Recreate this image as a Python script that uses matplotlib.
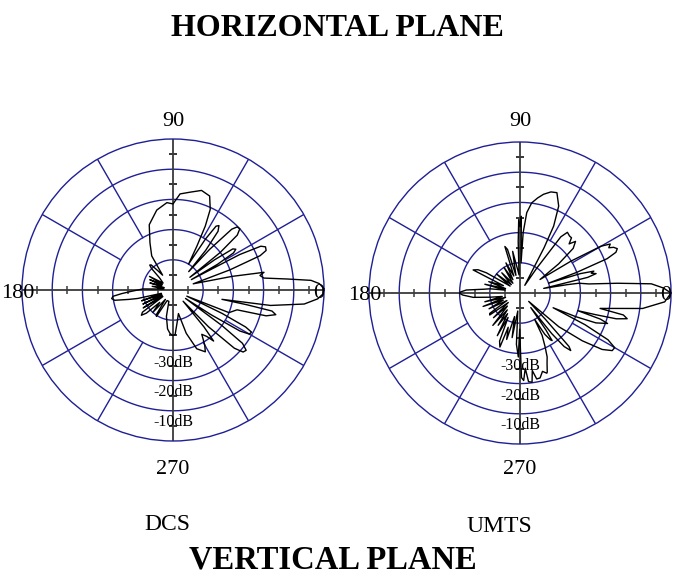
import numpy as np
import matplotlib
matplotlib.use('Agg')
import matplotlib.pyplot as plt

plt.rcParams['font.family'] = ['Liberation Serif', 'DejaVu Serif']

# ---- traced patterns: angle (deg), level (dB) ----
dcs_deg = [0.5, 2.5, 4, 5.5, 7.5, 9.5, 11, 13, 17,
           19.5, 21.5, 23, 25, 26.5, 28, 29.5,
           30, 31.5, 33, 34.5, 36, 37,
           38.5, 40.5, 42.5, 44.5, 46, 48, 49.5,
           50.5, 52.5, 54.5, 56, 57.5, 59,
           61.4, 63.2, 65.2, 68.7, 74, 80, 85.8, 90, 94, 101.5, 110, 116, 122, 125,
           128, 131, 133, 135, 138,
           145, 150, 152, 156, 158, 163, 165, 170, 174, 178,
           182, 184, 186, 188, 190, 192, 193.5, 196,
           199, 201, 205, 207, 211, 213, 216, 218.6, 221, 223, 228, 231, 236, 238, 241, 250,
           256, 262, 266, 269, 272.6, 277, 283,
           287, 292, 297.6, 300, 303, 306, 308.5, 310, 312,
           314, 316.5, 318.5, 320.5, 322.5, 324, 326,
           327, 328.5, 330, 331.8, 333, 334.5, 336,
           338, 342.8, 344.5, 346.5, 348, 348.7, 349.2,
           351, 353.9, 356.5, 358.5, 360.5]
dcs_db = [0, -1.5, -4.2, -12, -19.7, -20.8, -19.3, -30, -43,
          -30, -19, -16.5, -16.2, -17.5, -25, -43,
          -33, -26.5, -25.2, -26, -33, -43,
          -30, -22, -20, -20.2, -22, -32, -42,
          -33, -25.5, -23.8, -24.5, -30, -40,
          -33.5, -26.3, -20.6, -16.6, -15.7, -17.1, -18.1, -21.5, -21, -23, -27, -32.6, -36.7, -44,
          -42, -39, -38.7, -40, -44,
          -46, -41, -46, -41.6, -46, -42, -47, -43, -47, -40,
          -36, -33, -30, -29.5, -30.4, -35, -38, -46,
          -39, -46, -39, -46, -38.5, -46, -37.5, -36.6, -38.3, -44, -40, -46, -40, -39.7, -46, -46,
          -41, -37, -35.6, -35, -35.1, -39, -42,
          -35, -29, -26.9, -29, -32.5, -31, -28.4, -34, -45,
          -33, -22, -19, -18.6, -21, -30, -45,
          -35, -24, -20.8, -20.5, -23, -32, -45,
          -30, -27.8, -18, -15, -16.5, -25, -33.5,
          -17.3, -6.3, -2, -0.3, 0]

umts_deg = [0, 2, 4, 5.7, 7.5, 9.4, 10, 11,
            12, 13, 14.3, 15.5, 16.5, 17.8, 19,
            20, 21.5, 23, 24.5, 26, 27, 28.5, 30, 32, 34,
            37, 40, 42.9, 45, 47, 49, 52, 54, 56, 58,
            59.5, 62, 63.3, 66, 69.8, 73, 76.6, 79.5, 82.6, 85.2, 87, 88,
            89, 90, 91, 92, 93,
            96, 100, 103, 106, 108, 110, 115, 118, 122, 126, 132, 136, 141, 145, 149, 151,
            153.8, 156, 160, 163, 166, 169, 172,
            174, 176.8, 179, 180.3, 182, 185.3, 188,
            191, 194, 197, 200, 203, 207, 210, 214, 216, 219, 223, 226, 230, 233, 235.9,
            239, 242, 244, 247, 249.6, 251, 254, 257, 260, 263, 266, 268.5, 269.5,
            271, 272.4, 274, 275.5, 277.7, 279, 281, 283.3, 286, 288.5, 289, 291, 293, 295,
            297.6, 299,
            301, 303, 304, 305, 306.5, 308, 309.5, 311.4, 312.5, 314, 316,
            319, 322.5, 325.5, 328, 330, 332, 334, 336,
            337, 338.5, 340.8, 342, 343,
            344, 345, 346.5, 348, 349.1,
            352.8, 356.5, 360]
umts_db = [0, -2.5, -6.4, -17.5, -27, -30.2, -34, -42,
           -38, -27, -24, -25.5, -24.5, -29, -40,
           -30, -19, -15.5, -14.6, -15.5, -17, -16, -19, -30, -42,
           -34, -27, -24.9, -27, -25, -25, -24.5, -27, -40, -47,
           -45.6, -33, -25.2, -18.5, -14.6, -15, -16.4, -18, -19.9, -23.3, -30, -40,
           -24.6, -28, -25.7, -33, -44,
           -42, -36, -44, -35, -33.8, -44, -39, -45, -40, -46, -41, -46, -40, -46, -37, -34.1,
           -32.7, -44, -39, -45, -38, -45, -40,
           -38, -32.2, -30.3, -30, -31, -34.4, -40,
           -44, -38, -45, -37, -44, -38.5, -45, -37.9, -37.6, -45, -38, -44, -36, -43, -37.1,
           -42, -34, -41, -32.7, -30.9, -38, -34, -42, -35, -44, -33, -28.8, -38,
           -22, -21, -25, -20.5, -20.2, -24, -21, -21.1, -23, -22, -22.3, -25, -27, -30.3,
           -34.2, -40,
           -34, -31.5, -31, -35, -44, -33, -27, -24.6, -26, -38, -46,
           -33, -24, -17, -14, -13.8, -17, -26, -38,
           -30, -23, -19.3, -22, -30,
           -24, -17, -13.5, -15, -23,
           -9.1, -2, 0]

ring_db = [-40, -30, -20, -10]
spoke_deg = [30, 60, 120, 150, 210, 240, 300, 330]
tick_db = [-45, -35, -25, -15, -5]
ring_labels = ['-30dB', '-20dB', '-10dB']

NAVY = '#1f1f96'
W, H = 681, 576


def px(x, y):
    return x / W, 1 - y / H


def polar_panel(fig, cx, cy, deg, db):
    R = 151
    ax = fig.add_axes([(cx - R) / W, 1 - (cy + R) / H, 2 * R / W, 2 * R / H], projection='polar')
    ax.set_ylim(-50, 0)
    ax.set_xticks([]); ax.set_yticks([]); ax.grid(False)
    ax.patch.set_alpha(0)
    ax.spines['polar'].set_color(NAVY); ax.spines['polar'].set_linewidth(1.0)
    th = np.linspace(0, 2 * np.pi, 721)
    for r in ring_db:
        ax.plot(th, np.full_like(th, r), color=NAVY, lw=1.0)
    for a in spoke_deg:
        ax.plot([np.deg2rad(a)] * 2, [-30, 0], color=NAVY, lw=1.0)
    for a, m in [(0, '|'), (90, '_'), (180, '|'), (270, '_')]:
        t = np.deg2rad(a)
        ax.plot([t, t], [-50, 0], color='#3a3a3a', lw=1.3)
        ax.plot([t] * len(tick_db), tick_db, ls='none', marker=m, ms=6, mew=1.1, color='#3a3a3a')
    ax.plot(np.deg2rad(deg), db, color='black', lw=1.0, clip_on=False)
    return ax


fig = plt.figure(figsize=(W / 100, H / 100), dpi=100)
panels = [(173, 290, dcs_deg, dcs_db, 'DCS', 167, 524),
          (520, 293, umts_deg, umts_db, 'UMTS', 499, 527)]
for cx, cy, deg, db, name, nx, ny in panels:
    polar_panel(fig, cx, cy, deg, db)
    fig.text(*px(cx, 121), '90', ha='center', va='center', fontsize=16)
    fig.text(*px(cx, 470), '270', ha='center', va='center', fontsize=16)
    fig.text(*px(cx - 155, cy + 3), '180', ha='center', va='center', fontsize=16)
    fig.text(*px(cx + 146, cy + 3), '0', ha='center', va='center', fontsize=16)
    for i, lab in enumerate(ring_labels):
        fig.text(*px(cx, cy + 73 + 29.5 * i), lab, ha='center', va='center', fontsize=11.5)
    fig.text(*px(nx, ny), name, ha='center', va='center', fontsize=17)

fig.text(*px(337, 28), 'HORIZONTAL PLANE', ha='center', va='center', fontsize=23, fontweight='bold')
fig.text(*px(333, 560), 'VERTICAL PLANE', ha='center', va='center', fontsize=23.5, fontweight='bold')

fig.savefig('out.png', dpi=100)
